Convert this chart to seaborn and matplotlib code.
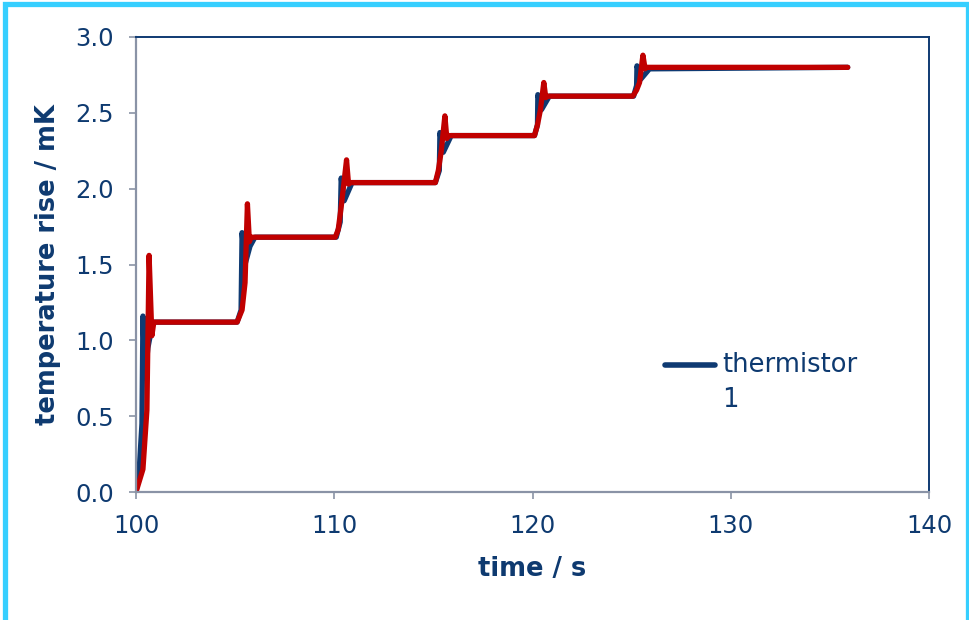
import matplotlib
matplotlib.use("Agg")
import matplotlib.pyplot as plt
from matplotlib.patches import Rectangle
from matplotlib.ticker import FormatStrFormatter
import seaborn as sns
import pandas as pd
import numpy as np

# Thermistor 1 response (time in s, temperature rise in mK)
thermistor_time = [100.0, 100.15, 100.3, 100.35, 100.45, 100.6, 100.85, 105.1,
                   105.3, 105.35, 105.5, 105.75, 106.0, 110.1,
                   110.3, 110.35, 110.5, 110.9, 115.1,
                   115.3, 115.33, 115.5, 115.9, 120.1,
                   120.25, 120.27, 120.45, 120.85, 125.1,
                   125.25, 125.27, 125.45, 125.9, 135.9]
thermistor_rise = [0.0, 0.12, 0.45, 1.16, 0.75, 0.95, 1.12, 1.12,
                   1.2, 1.71, 1.5, 1.62, 1.68, 1.68,
                   1.78, 2.07, 1.92, 2.04, 2.04,
                   2.12, 2.37, 2.24, 2.35, 2.35,
                   2.42, 2.62, 2.52, 2.61, 2.61,
                   2.68, 2.81, 2.72, 2.79, 2.80]

# Second trace (time in s, temperature rise in mK)
trace2_time = [100.0, 100.35, 100.55, 100.66, 100.8, 100.9, 105.1,
               105.35, 105.5, 105.62, 105.72, 105.8, 110.05,
               110.2, 110.35, 110.62, 110.72, 110.8, 115.1,
               115.25, 115.4, 115.58, 115.68, 115.75, 120.1,
               120.25, 120.4, 120.57, 120.67, 120.75, 125.06,
               125.25, 125.4, 125.57, 125.68, 125.75, 135.9]
trace2_rise = [0.0, 0.15, 0.54, 1.56, 1.03, 1.12, 1.12,
               1.2, 1.38, 1.9, 1.65, 1.68, 1.68,
               1.73, 1.88, 2.19, 2.03, 2.04, 2.04,
               2.12, 2.25, 2.48, 2.33, 2.35, 2.35,
               2.42, 2.52, 2.70, 2.60, 2.61, 2.61,
               2.65, 2.70, 2.88, 2.79, 2.80, 2.80]

x_ticks = [100, 110, 120, 130, 140]
y_ticks = [0.0, 0.5, 1.0, 1.5, 2.0, 2.5, 3.0]

NAVY = "#0F3A72"
RED = "#C00000"
GREY = "#8A93A6"
TEXT = "#0E3A70"

sns.set_theme(style="white")
plt.rcParams["font.family"] = ["DejaVu Sans"]

fig = plt.figure(figsize=(9.7, 6.2), dpi=100)
ax = fig.add_axes([136 / 970, 1 - 492 / 620, (929 - 136) / 970, (492 - 37) / 620])

df1 = pd.DataFrame({"time": thermistor_time, "rise": thermistor_rise})
df2 = pd.DataFrame({"time": trace2_time, "rise": trace2_rise})

sns.lineplot(data=df1, x="time", y="rise", ax=ax, sort=False, estimator=None,
             color=NAVY, lw=3.8, solid_capstyle="round", solid_joinstyle="round",
             label="thermistor\n1")
sns.lineplot(data=df2, x="time", y="rise", ax=ax, sort=False, estimator=None,
             color=RED, lw=3.8, solid_capstyle="round", solid_joinstyle="round",
             legend=False)

ax.set_xlim(100, 140)
ax.set_ylim(0, 3.0)
ax.set_xticks(x_ticks)
ax.set_yticks(y_ticks)
ax.yaxis.set_major_formatter(FormatStrFormatter("%.1f"))

ax.tick_params(axis="both", which="major", direction="out", length=5, width=1.2,
               color=GREY, labelcolor=TEXT, labelsize=17.5, pad=11,
               bottom=True, left=True)

for side in ("left", "bottom"):
    ax.spines[side].set_color(GREY)
    ax.spines[side].set_linewidth(1.6)
for side in ("top", "right"):
    ax.spines[side].set_color(NAVY)
    ax.spines[side].set_linewidth(1.4)

ax.set_xlabel("time / s", fontsize=18.5, fontweight="bold", color=TEXT, labelpad=13)
ax.set_ylabel("temperature rise / mK", fontsize=18.5, fontweight="bold",
              color=TEXT, labelpad=10)

leg = ax.legend(loc="upper left", bbox_to_anchor=((665 - 136) / 793, (492 - 352) / 455),
                frameon=False, fontsize=18.5, handlelength=1.95, handletextpad=0.28,
                borderpad=0, borderaxespad=0)
for t in leg.get_texts():
    t.set_color(TEXT)
    t.set_linespacing(1.45)
# keep the key line level with the first line of its label
for h in leg.legend_handles:
    h.set_linewidth(4)
    h.set_solid_capstyle("round")
    h.set_ydata(np.asarray(h.get_ydata(), dtype=float) + 13.0)

# light-blue slide frame around the chart
fig.patches.append(Rectangle((5 / 970, -0.05), (963 / 970), 1.05 - 4 / 620,
                             transform=fig.transFigure, fill=False,
                             edgecolor="#36CFFF", lw=3.8, zorder=10))

fig.savefig("out.png", dpi=100)
